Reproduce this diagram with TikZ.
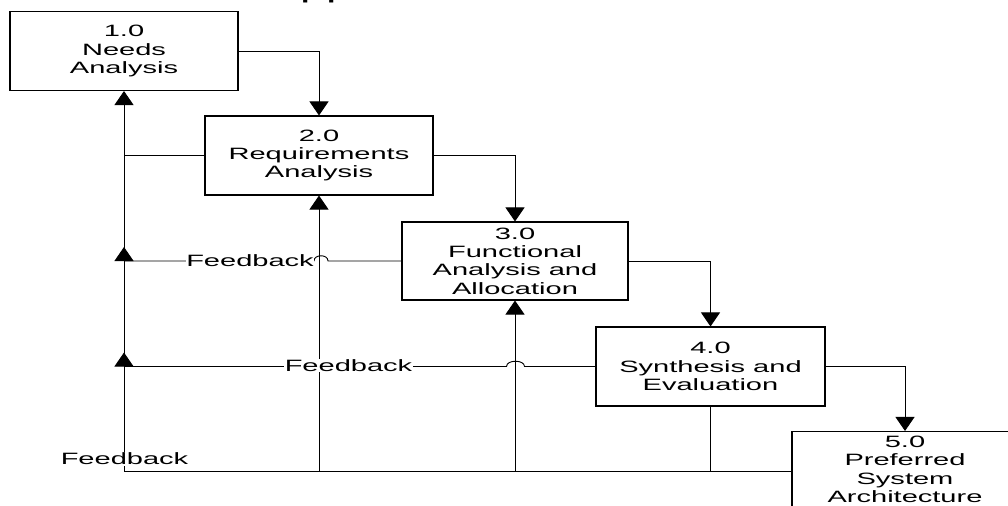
\documentclass[tikz,border=0pt]{standalone}
\usepackage{fontspec}
\usetikzlibrary{arrows.meta}
% Arial-metric sans, widened horizontally
\newfontfamily\wideface{Liberation Sans}[FakeStretch=1.77]
\begin{document}
\begin{tikzpicture}[x=0.03cm,y=-0.03cm,
  txt/.style={font=\wideface\fontsize{14pt}{15.7pt}\selectfont, align=center},
  box/.style={txt, draw=black, line width=0.9pt, inner sep=0pt,
              minimum width=6.84cm, minimum height=2.37cm},
  link/.style={draw=black, line width=0.8pt},
  arr/.style={link, -{Triangle[length=0.42cm,width=0.57cm]}},
  fblabel/.style={txt, fill=white, inner sep=0.6pt}]
\useasboundingbox (0,0) rectangle (1008,506);
\clip (0,0) rectangle (1008,506);

% heading, mostly above the frame
\node[anchor=base west, inner sep=0pt,
      font=\wideface\fontsize{22.5pt}{27pt}\selectfont] (title) at (268.7,-2.5) {Approach};

% process steps
\node[box] (b1) at (124,51)    {1.0\\Needs\\Analysis};
\node[box] (b2) at (319,155.5) {2.0\\Requirements\\Analysis};
\node[box, minimum width=6.78cm, minimum height=2.34cm] (b3) at (515,261) {3.0\\Functional\\Analysis and\\Allocation};
\node[box, minimum width=6.87cm] (b4) at (710.5,366.5) {4.0\\Synthesis and\\Evaluation};
\node[box, minimum width=6.78cm, minimum height=2.28cm] (b5) at (905,469.5) {5.0\\Preferred\\System\\Architecture};

% forward flow
\draw[arr] (b1.east) -| (b2.north);
\draw[arr] (b2.east) -| (b3.north);
\draw[arr] (b3.east) -| (b4.north);
\draw[arr] (b4.east) -| (b5.north);

% feedback spine and junctions
\coordinate (corner) at (124,471);
\coordinate (j0) at (b2.west -| b1.south);
\coordinate (j1) at (b3.west -| b1.south);
\coordinate (j2) at (b4.west -| b1.south);

\draw[link] (corner) -- (corner -| b5.west);
\draw[arr] (corner) -- (b1.south);
\draw[arr] (corner) -- ([yshift=0.42cm]j1);
\draw[arr] (corner) -- ([yshift=0.42cm]j2);

\draw[arr] (b2.south |- corner) -- (b2.south);
\draw[arr] (b3.south |- corner) -- (b3.south);
\draw[link] (b4.south) -- (b4.south |- corner);

\draw[link] (b2.west) -- (j0);

% feedback lines with hops over the verticals
\coordinate (h1r) at (328,261);
\coordinate (h1l) at (314,261);
\draw[link] (b3.west) -- (h1r) .. controls (328,254) and (314,254) .. (h1l) -- (j1);

\coordinate (h2r) at (524.5,366.5);
\coordinate (h2l) at (506.5,366.5);
\draw[link] (b4.west) -- (h2r) .. controls (524.5,359.5) and (506.5,359.5) .. (h2l) -- (j2);

% labels
\node[fblabel] (fb1) at (250,261)   {Feedback};
\node[fblabel] (fb2) at (348.5,365.5) {Feedback};
\node[fblabel] (fb3) at (124.5,459) {Feedback};
\end{tikzpicture}
\end{document}
